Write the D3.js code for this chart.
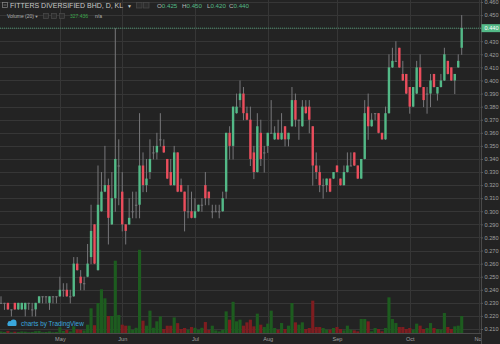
<!DOCTYPE html>
<html>
<head>
<meta charset="utf-8">
<script src="https://cdn.jsdelivr.net/npm/d3@7"></script>
<style>
  html, body { margin: 0; padding: 0; background: #232323; }
  svg { display: block; font-family: "Liberation Sans", Arial, sans-serif; }
</style>
</head>
<body>
<div id="myPlot"></div>
<script>
// Set Dimensions
const width = 500;
const height = 344;
const plotRight = 481;
const plotBottom = 333;

// Data, one bar per trading day
const open = [
  0.230,0.230,0.230,0.225,0.230,0.225,0.225,0.225,0.230,0.225,
  0.225,0.230,0.235,0.235,0.230,0.235,0.235,0.235,0.240,0.240,
  0.235,0.235,0.260,0.250,0.245,0.250,0.265,0.290,0.255,0.300,
  0.315,0.320,0.290,0.310,0.335,0.315,0.290,0.290,0.300,0.305,
  0.305,0.335,0.320,0.330,0.345,0.345,0.355,0.350,0.340,0.330,
  0.320,0.345,0.320,0.315,0.300,0.300,0.295,0.300,0.305,0.320,
  0.315,0.300,0.300,0.300,0.300,0.315,0.360,0.350,0.375,0.385,
  0.390,0.375,0.370,0.345,0.330,0.360,0.345,0.350,0.360,0.355,
  0.360,0.355,0.365,0.355,0.365,0.385,0.370,0.365,0.380,0.380,
  0.365,0.335,0.330,0.320,0.320,0.325,0.325,0.335,0.325,0.320,
  0.330,0.335,0.345,0.335,0.325,0.340,0.380,0.365,0.375,0.375,
  0.360,0.355,0.375,0.410,0.415,0.425,0.405,0.405,0.395,0.380,
  0.390,0.410,0.395,0.390,0.390,0.405,0.390,0.395,0.400,0.415,
  0.410,0.400,0.410,0.425
];
const high = [
  0.235,0.230,0.230,0.225,0.230,0.230,0.230,0.230,0.230,0.230,
  0.230,0.235,0.235,0.235,0.235,0.235,0.235,0.250,0.245,0.245,
  0.240,0.265,0.265,0.255,0.250,0.275,0.305,0.290,0.335,0.330,
  0.350,0.325,0.330,0.440,0.355,0.330,0.290,0.310,0.315,0.315,
  0.375,0.345,0.340,0.355,0.350,0.360,0.375,0.355,0.340,0.340,
  0.350,0.345,0.325,0.315,0.320,0.315,0.310,0.305,0.310,0.330,
  0.315,0.305,0.305,0.305,0.315,0.360,0.365,0.380,0.390,0.400,
  0.395,0.380,0.380,0.350,0.375,0.370,0.350,0.360,0.385,0.365,
  0.370,0.375,0.365,0.360,0.395,0.390,0.370,0.385,0.385,0.385,
  0.365,0.345,0.335,0.325,0.325,0.325,0.330,0.335,0.325,0.335,
  0.345,0.345,0.345,0.335,0.340,0.385,0.390,0.375,0.375,0.375,
  0.360,0.380,0.420,0.425,0.430,0.425,0.415,0.405,0.395,0.395,
  0.415,0.420,0.395,0.395,0.405,0.405,0.395,0.405,0.425,0.415,
  0.410,0.405,0.420,0.450
];
const low = [
  0.230,0.225,0.225,0.220,0.225,0.225,0.225,0.220,0.225,0.220,
  0.220,0.230,0.230,0.230,0.225,0.230,0.230,0.235,0.235,0.235,
  0.230,0.235,0.255,0.240,0.240,0.250,0.260,0.260,0.255,0.300,
  0.315,0.275,0.290,0.300,0.305,0.285,0.275,0.290,0.295,0.295,
  0.295,0.315,0.315,0.325,0.340,0.340,0.350,0.345,0.325,0.320,
  0.320,0.315,0.315,0.285,0.295,0.295,0.295,0.300,0.300,0.305,
  0.305,0.295,0.300,0.295,0.300,0.310,0.340,0.340,0.375,0.380,
  0.370,0.370,0.335,0.325,0.330,0.335,0.330,0.345,0.360,0.355,
  0.355,0.355,0.350,0.350,0.365,0.365,0.355,0.365,0.375,0.360,
  0.320,0.325,0.315,0.310,0.315,0.315,0.325,0.330,0.320,0.320,
  0.330,0.335,0.335,0.325,0.325,0.340,0.355,0.365,0.370,0.360,
  0.355,0.355,0.375,0.410,0.415,0.410,0.400,0.390,0.375,0.380,
  0.390,0.395,0.380,0.375,0.380,0.395,0.385,0.395,0.400,0.405,
  0.400,0.390,0.410,0.420
];
const close = [
  0.230,0.230,0.225,0.225,0.225,0.230,0.230,0.230,0.230,0.225,
  0.230,0.235,0.235,0.235,0.235,0.235,0.235,0.240,0.240,0.235,
  0.235,0.260,0.255,0.245,0.245,0.260,0.285,0.260,0.305,0.315,
  0.320,0.295,0.310,0.340,0.335,0.290,0.285,0.295,0.300,0.305,
  0.335,0.320,0.325,0.340,0.345,0.350,0.355,0.345,0.325,0.320,
  0.345,0.315,0.315,0.300,0.300,0.295,0.300,0.305,0.305,0.310,
  0.310,0.300,0.300,0.300,0.310,0.360,0.350,0.380,0.380,0.390,
  0.375,0.370,0.340,0.330,0.365,0.340,0.345,0.360,0.360,0.360,
  0.355,0.360,0.355,0.360,0.385,0.370,0.370,0.380,0.375,0.370,
  0.335,0.330,0.320,0.320,0.325,0.315,0.330,0.330,0.320,0.330,
  0.335,0.335,0.335,0.325,0.340,0.375,0.365,0.370,0.375,0.360,
  0.355,0.375,0.410,0.415,0.415,0.410,0.400,0.390,0.380,0.395,
  0.410,0.395,0.385,0.390,0.400,0.395,0.395,0.400,0.420,0.405,
  0.400,0.405,0.415,0.440
];
const volume = [
  30000,20000,40000,15000,25000,20000,30000,25000,15000,20000,
  35000,40000,15000,20000,30000,15000,20000,110000,40000,60000,
  30000,130000,70000,60000,50000,160000,475000,150000,576000,840000,
  667000,327000,327000,1390000,345000,160000,140000,140000,60000,100000,
  1600000,237000,140000,430000,100000,225000,320000,77000,140000,140000,
  300000,190000,77000,96000,60000,115000,100000,60000,100000,211000,
  60000,140000,50000,30000,60000,416000,256000,600000,225000,256000,
  141000,205000,256000,128000,372000,160000,115000,180000,430000,96000,
  64000,192000,77000,141000,577000,205000,160000,205000,77000,96000,
  622000,115000,115000,96000,64000,64000,96000,115000,77000,51000,
  141000,64000,51000,32000,270000,270000,224000,32000,96000,77000,
  32000,96000,686000,270000,192000,115000,115000,77000,96000,64000,
  180000,141000,77000,96000,192000,96000,77000,64000,384000,115000,
  77000,128000,141000,327436
];

const months = ["May", "Jun", "Jul", "Aug", "Sep", "Oct", "Nov"];
const monthBars = [17, 35, 56, 77, 97, 118, 138];
const priceTicks = d3.range(21, 47).map(d => d / 100);
const lastPrice = 0.440;

const upColor = "#53b987";
const downColor = "#eb4d5c";
const wickColor = "#77777a";

// Append SVG Object to the Page
const svg = d3.select("#myPlot")
  .append("svg")
  .attr("width", width)
  .attr("height", height);

svg.append("rect")
  .attr("width", width)
  .attr("height", height)
  .attr("fill", "#232323");

// Scales
const x = d3.scaleLinear()
  .domain([0, open.length - 1])
  .range([1, 461.7]);

const y = d3.scaleLinear()
  .domain([0.21, 0.46])
  .range([329, 2]);

const yVol = d3.scaleLinear()
  .domain([0, 2000000])
  .range([plotBottom, plotBottom - 104]);

const step = x(1) - x(0);

svg.append("clipPath")
  .attr("id", "plotClip")
  .append("rect")
  .attr("width", plotRight)
  .attr("height", plotBottom);

const plot = svg.append("g").attr("clip-path", "url(#plotClip)");

// Grid lines
plot.append("g")
  .selectAll("line")
  .data(priceTicks)
  .join("line")
  .attr("x1", 0)
  .attr("x2", plotRight)
  .attr("y1", d => Math.round(y(d)) + 0.5)
  .attr("y2", d => Math.round(y(d)) + 0.5)
  .attr("stroke", "#363636");

plot.append("g")
  .selectAll("line")
  .data(monthBars)
  .join("line")
  .attr("x1", d => Math.round(x(d)) + 0.5)
  .attr("x2", d => Math.round(x(d)) + 0.5)
  .attr("y1", 0)
  .attr("y2", plotBottom)
  .attr("stroke", "#363636");

// Volume bars
const bars = d3.range(open.length);
plot.append("g")
  .selectAll("rect")
  .data(bars)
  .join("rect")
  .attr("x", i => x(i) - step * 0.45)
  .attr("width", step * 0.9)
  .attr("y", i => yVol(volume[i]))
  .attr("height", i => plotBottom - yVol(volume[i]))
  .attr("fill", i => close[i] >= open[i] ? "#1d5c1f" : "#7e1d20");

// Last price line
plot.append("line")
  .attr("x1", 0)
  .attr("x2", plotRight)
  .attr("y1", y(lastPrice))
  .attr("y2", y(lastPrice))
  .attr("stroke", upColor)
  .attr("stroke-opacity", 0.7)
  .attr("stroke-dasharray", "1,1");

// Candles: wicks then bodies
plot.append("g")
  .selectAll("line")
  .data(bars)
  .join("line")
  .attr("x1", i => x(i))
  .attr("x2", i => x(i))
  .attr("y1", i => y(high[i]))
  .attr("y2", i => y(low[i]) + 0.5)
  .attr("stroke", wickColor)
  .attr("stroke-width", 1);

plot.append("g")
  .selectAll("rect")
  .data(bars)
  .join("rect")
  .attr("x", i => x(i) - 1.2)
  .attr("width", 2.4)
  .attr("y", i => y(Math.max(open[i], close[i])))
  .attr("height", i => Math.max(1, Math.abs(y(open[i]) - y(close[i]))))
  .attr("fill", i => close[i] > open[i] ? upColor : close[i] < open[i] ? downColor : wickColor);

// Time axis
svg.append("line")
  .attr("x1", 0).attr("x2", width)
  .attr("y1", plotBottom + 0.5).attr("y2", plotBottom + 0.5)
  .attr("stroke", "#4a4a4a");

const xAxis = svg.append("g")
  .attr("transform", `translate(0, ${plotBottom})`)
  .call(d3.axisBottom(x)
    .tickValues(monthBars)
    .tickFormat((d, i) => months[i])
    .tickSize(0)
    .tickPadding(4));
xAxis.select(".domain").remove();
xAxis.selectAll("text")
  .attr("fill", "#a0a0a0")
  .style("font-size", "5.6px");

// Price axis
svg.append("rect")
  .attr("x", plotRight)
  .attr("width", width - plotRight)
  .attr("height", height)
  .attr("fill", "#232323");

svg.append("line")
  .attr("x1", plotRight + 0.5).attr("x2", plotRight + 0.5)
  .attr("y1", 0).attr("y2", height)
  .attr("stroke", "#4a4a4a");

const yAxis = svg.append("g")
  .attr("transform", `translate(${plotRight}, 0)`)
  .call(d3.axisRight(y)
    .tickValues(priceTicks)
    .tickFormat(d3.format(".3f"))
    .tickSize(2)
    .tickPadding(1.5));
yAxis.select(".domain").remove();
yAxis.selectAll("line").attr("stroke", "#5a5a5a");
yAxis.selectAll("text")
  .attr("fill", "#a0a0a0")
  .style("font-size", "5.6px");

// Last price label
svg.append("rect")
  .attr("x", plotRight + 0.5)
  .attr("y", y(lastPrice) - 4)
  .attr("width", width - plotRight)
  .attr("height", 8)
  .attr("fill", upColor);

svg.append("text")
  .attr("x", plotRight + 3.5)
  .attr("y", y(lastPrice) + 2)
  .attr("fill", "#ffffff")
  .style("font-size", "5.6px")
  .text(d3.format(".3f")(lastPrice));

// Header
const header = svg.append("g");

header.append("rect")
  .attr("x", 2.5).attr("y", 2.5).attr("width", 5).attr("height", 5)
  .attr("fill", "none").attr("stroke", "#8a8a8a").attr("stroke-width", 0.7);
header.append("line")
  .attr("x1", 3.5).attr("x2", 6.5).attr("y1", 5).attr("y2", 5)
  .attr("stroke", "#8a8a8a").attr("stroke-width", 0.7);

header.append("text")
  .attr("x", 10)
  .attr("y", 8)
  .attr("fill", "#c8c8c8")
  .style("font-size", "7px")
  .text("FITTERS DIVERSIFIED BHD, D, KL");

header.append("text")
  .attr("x", 127)
  .attr("y", 7.5)
  .attr("fill", "#c8c8c8")
  .style("font-size", "5px")
  .text("▼");

[136, 143].forEach(bx => {
  header.append("rect")
    .attr("x", bx + 0.5).attr("y", 2.5).attr("width", 5.5).attr("height", 5.5)
    .attr("fill", "#2e2e2e").attr("stroke", "#4a4a4a").attr("stroke-width", 0.7);
});

const ohlc = [["O", open], ["H", high], ["L", low], ["C", close]];
const ohlcX = [157, 182, 207, 229];
const last = open.length - 1;
ohlc.forEach((d, i) => {
  const t = header.append("text")
    .attr("x", ohlcX[i])
    .attr("y", 8)
    .style("font-size", "6.2px");
  t.append("tspan").attr("fill", "#b8b8b8").text(d[0]);
  t.append("tspan").attr("fill", upColor).text(d3.format(".3f")(d[1][last]));
});

header.append("text")
  .attr("x", 7)
  .attr("y", 18.3)
  .attr("fill", "#b0b0b0")
  .style("font-size", "5px")
  .text("Volume (20)");

header.append("text")
  .attr("x", 34.5)
  .attr("y", 18)
  .attr("fill", "#b0b0b0")
  .style("font-size", "4px")
  .text("▼");

[43, 51, 59].forEach(bx => {
  header.append("rect")
    .attr("x", bx + 0.5).attr("y", 13.5).attr("width", 5).attr("height", 5)
    .attr("fill", "#2e2e2e").attr("stroke", "#4a4a4a").attr("stroke-width", 0.7);
});

header.append("text")
  .attr("x", 70)
  .attr("y", 18.3)
  .attr("fill", "#3aa34a")
  .style("font-size", "5px")
  .text(d3.format(".3f")(volume[last] / 1000));

header.append("text")
  .attr("x", 95)
  .attr("y", 18.3)
  .attr("fill", "#b0b0b0")
  .style("font-size", "5px")
  .text("n/a");

// Watermark
const logo = svg.append("g").attr("fill", "#3aa7dc");
logo.append("circle").attr("cx", 10).attr("cy", 323.5).attr("r", 2.4);
logo.append("circle").attr("cx", 13.5).attr("cy", 322.5).attr("r", 3);
logo.append("rect").attr("x", 7.5).attr("y", 323).attr("width", 9).attr("height", 3).attr("rx", 1);

svg.append("text")
  .attr("x", 21)
  .attr("y", 325.5)
  .attr("fill", "#3aa7dc")
  .style("font-size", "6.4px")
  .text("charts by TradingView");
</script>
</body>
</html>
